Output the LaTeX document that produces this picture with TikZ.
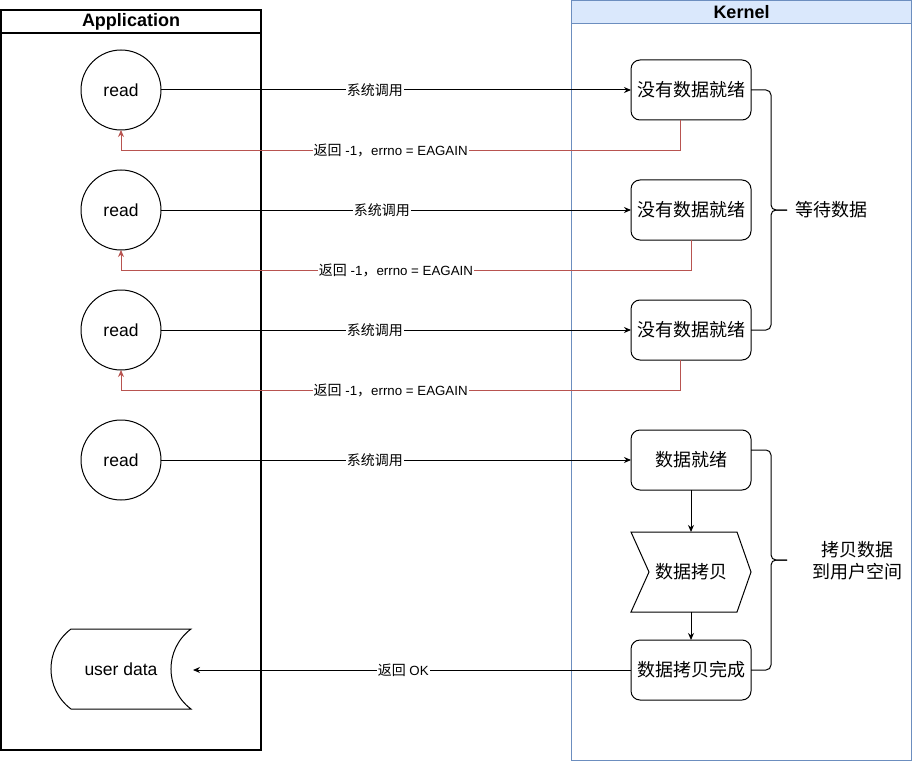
\documentclass[tikz,border=0pt]{standalone}
\usepackage{fontspec}
\setmainfont{Liberation Sans}
\newfontfamily\cjk{Noto Sans CJK SC}
\usetikzlibrary{arrows.meta}
\definecolor{retred}{HTML}{B85450}
\definecolor{kfill}{HTML}{DAE8FC}
\definecolor{kline}{HTML}{6C8EBF}
\newcommand\zhS[1]{{\cjk\fontsize{14}{16}\selectfont #1}}
\begin{document}
\begin{tikzpicture}[x=1pt,y=-1pt,
  every node/.style={inner sep=0pt, outer sep=0pt},
  readnode/.style={circle, draw, line width=1pt, minimum size=80pt, font=\fontsize{17.5}{20}\selectfont},
  kbox/.style={draw, rounded corners=9pt, minimum width=120pt, minimum height=60pt, font=\cjk\fontsize{18}{22}\selectfont, line width=1pt},
  plainzh/.style={font=\cjk\fontsize{18}{22}\selectfont},
  call/.style={draw, line width=1pt, -{Stealth[length=7pt,width=6pt]}},
  ret/.style={draw=retred, line width=1pt, -{Stealth[length=7pt,width=6pt]}},
  elabel/.style={fill=white, inner sep=1pt, font=\fontsize{13.3}{15}\selectfont},
  hdr/.style={font=\bfseries\fontsize{18}{20}\selectfont},
  shapeline/.style={line width=1pt},
  bracel/.style={line width=1pt, rounded corners=5pt},
]
\useasboundingbox (0,0) rectangle (912,762);

% Application pool
\draw[line width=2pt] (1,10) rectangle (261,750);
\draw[line width=2pt] (1,33) -- (261,33);
\node[hdr] (apph) at (131,21.5) {Application};

% Kernel pool
\draw[kline, fill=white] (571.5,0.5) rectangle (911.5,760);
\draw[kline, fill=kfill] (571.5,0.5) rectangle (911.5,23);
\node[hdr] (kh) at (741.5,12) {Kernel};

% read circles
\node[readnode] (r1) at (121,90) {read};
\node[readnode] (r2) at (121,210) {read};
\node[readnode] (r3) at (121,330) {read};
\node[readnode] (r4) at (121,460) {read};

% kernel boxes
\node[kbox] (b1) at (691,90) {没有数据就绪};
\node[kbox] (b2) at (691,210) {没有数据就绪};
\node[kbox] (b3) at (691,330) {没有数据就绪};
\node[kbox] (b4) at (691,460) {数据就绪};
\node[plainzh, minimum width=120pt, minimum height=80pt] (cp) at (691,572) {数据拷贝};
\draw[shapeline] (cp.north west) -- ([xshift=-14pt]cp.north east) -- (cp.east) -- ([xshift=-14pt]cp.south east) -- (cp.south west) -- ([xshift=18pt]cp.west) -- cycle;
\node[kbox] (b6) at (691,670) {数据拷贝完成};

% user data
\node[minimum width=140pt, minimum height=80pt, font=\fontsize{17.5}{20}\selectfont] (ud) at (121,669) {user data};
\draw[shapeline] (71,629) -- (191,629) .. controls (164.3,649) and (164.3,689) .. (191,709) -- (71,709) .. controls (44.3,689) and (44.3,649) .. (71,629) -- cycle;

% system calls
\draw[call] (r1) -- node[elabel, pos=0.455] {\zhS{系统调用}} (b1);
\draw[call] (r2) -- node[elabel, pos=0.47] {\zhS{系统调用}} (b2);
\draw[call] (r3) -- node[elabel, pos=0.455] {\zhS{系统调用}} (b3);
\draw[call] (r4) -- node[elabel, pos=0.455] {\zhS{系统调用}} (b4);

% returns
\draw[ret] ([xshift=-10.5pt]b1.south) -- ++(0,30.5) -| node[elabel, pos=0.259] {\zhS{返回} -1\zhS{，}errno = EAGAIN} (r1.south);
\draw[ret] ([xshift=0.5pt]b2.south) -- ++(0,30.5) -| node[elabel, pos=0.259] {\zhS{返回} -1\zhS{，}errno = EAGAIN} (r2.south);
\draw[ret] ([xshift=-10.5pt]b3.south) -- ++(0,30.5) -| node[elabel, pos=0.259] {\zhS{返回} -1\zhS{，}errno = EAGAIN} (r3.south);

% copy flow
\draw[call] (b4) -- (cp);
\draw[call] (cp) -- (b6);
\draw[call] (b6.west) -- node[elabel, pos=0.52] {\zhS{返回} OK} ([xshift=2pt]b6.west -| ud.east);

% braces
\draw[bracel] (b1.east) -- (771,90) -- (771,210) -- (787,210);
\draw[bracel] (b3.east) -- (771,330) -- (771,210) -- (787,210);
\draw[bracel] (751,450) -- (771,450) -- (771,560) -- (787,560);
\draw[bracel] (b6.east) -- (771,670) -- (771,560) -- (787,560);

\node[plainzh] (wait) at (831,210) {等待数据};
\node[plainzh, align=center] (copy) at (857,561) {拷贝数据\\到用户空间};
\end{tikzpicture}
\end{document}
